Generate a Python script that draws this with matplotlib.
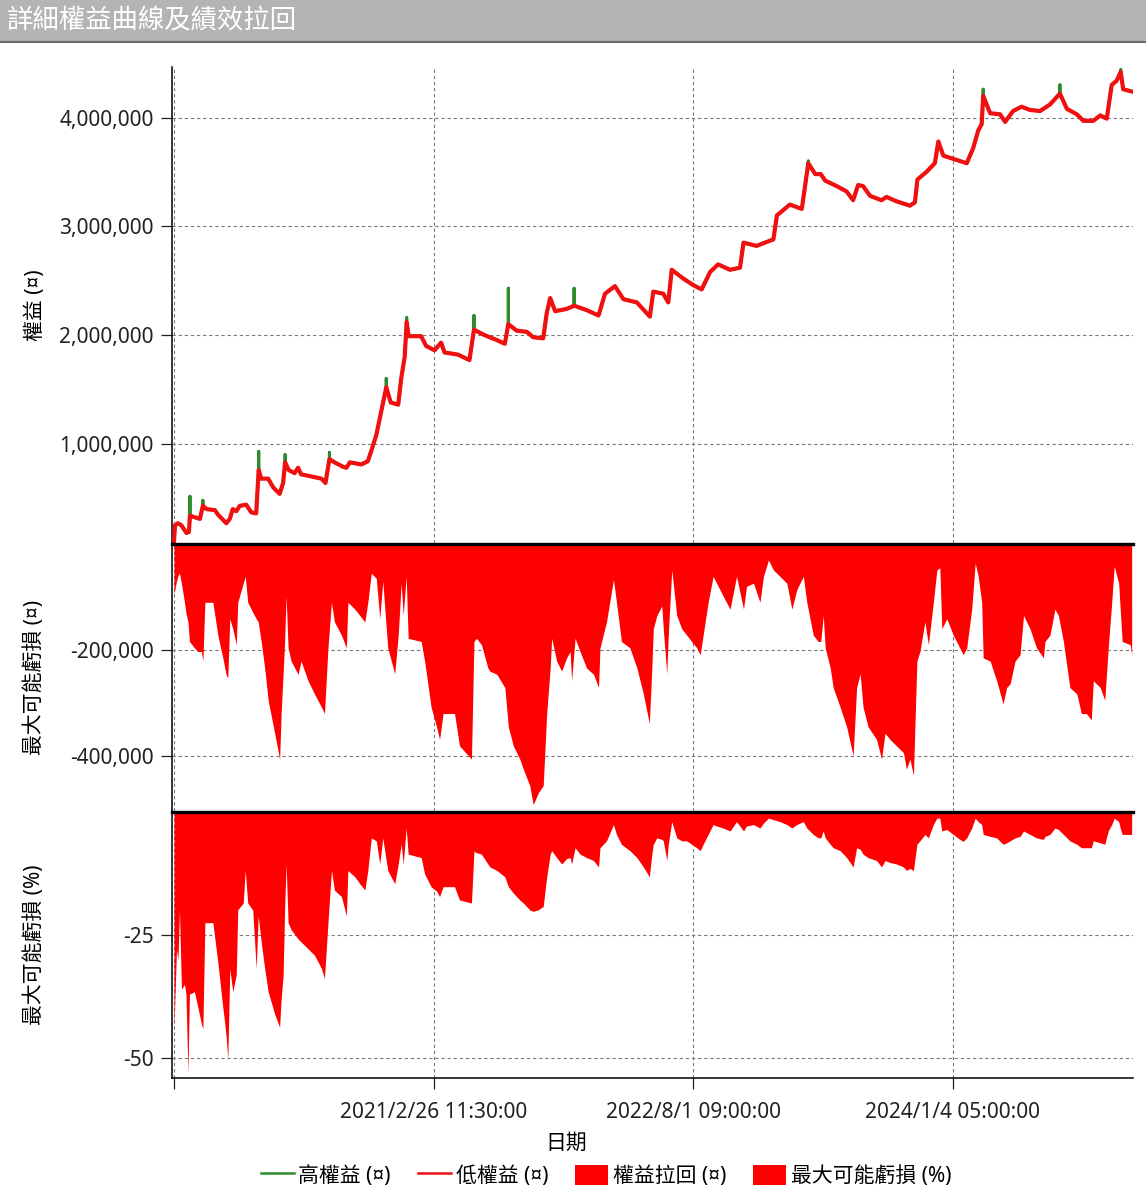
import matplotlib
matplotlib.use("Agg")
import matplotlib.pyplot as plt
from matplotlib.lines import Line2D
from matplotlib.patches import Patch, Rectangle
from matplotlib.ticker import FuncFormatter
import pandas as pd

plt.rcParams['font.family'] = ['Noto Sans', 'Noto Sans CJK TC', 'DejaVu Sans']

# ---------------- data ----------------
start_date = "2019/9/24 00:00:00"
x_tick_labels = ["2021/2/26 11:30:00", "2022/8/1 09:00:00", "2024/1/4 05:00:00"]

# equity curve: days since start, low-equity values
eq_days = [0, 2, 8, 15, 25, 30, 32, 38, 52, 58, 65, 82, 88, 105, 112, 118, 125, 132, 145, 155,
           165, 170, 175, 189, 199, 212, 219, 223, 230, 242, 249, 255, 276, 296, 304, 312, 322,
           339, 346, 353, 376, 389, 397, 406, 416, 426, 435, 450, 456, 463, 467, 471, 496, 506,
           523, 536, 543, 570, 593, 602, 623, 650, 664, 671, 688, 708, 721, 741, 748, 755, 765,
           788, 803, 828, 852, 865, 885, 902, 929, 955, 962, 982, 992, 999, 1022, 1042, 1059,
           1076, 1092, 1116, 1136, 1143, 1169, 1203, 1210, 1236, 1260, 1273, 1287, 1298, 1307,
           1330, 1350, 1363, 1373, 1383, 1397, 1420, 1430, 1450, 1477, 1487, 1492, 1510, 1527,
           1534, 1544, 1564, 1591, 1604, 1614, 1621, 1624, 1638, 1658, 1668, 1684, 1701, 1718,
           1738, 1758, 1778, 1792, 1812, 1825, 1845, 1859, 1872, 1882, 1892, 1900, 1905, 1922]
low_equity = [100000, 250000, 270000, 250000, 180000, 190000, 340000, 330000, 310000, 430000,
              400000, 390000, 350000, 270000, 310000, 400000, 380000, 430000, 440000, 370000,
              360000, 760000, 680000, 680000, 600000, 540000, 640000, 830000, 760000, 730000,
              780000, 720000, 700000, 680000, 640000, 860000, 830000, 790000, 780000, 830000,
              810000, 840000, 950000, 1080000, 1300000, 1520000, 1380000, 1360000, 1600000,
              1800000, 2120000, 1990000, 1990000, 1900000, 1860000, 1930000, 1840000, 1820000,
              1770000, 2050000, 2000000, 1950000, 1920000, 2100000, 2040000, 2030000, 1980000,
              1970000, 2200000, 2340000, 2220000, 2240000, 2270000, 2230000, 2180000, 2380000,
              2450000, 2330000, 2300000, 2170000, 2400000, 2380000, 2300000, 2600000, 2520000,
              2460000, 2420000, 2580000, 2650000, 2600000, 2620000, 2850000, 2820000, 2880000,
              3100000, 3200000, 3160000, 3580000, 3480000, 3480000, 3420000, 3370000, 3320000,
              3240000, 3380000, 3370000, 3280000, 3240000, 3270000, 3230000, 3190000, 3220000,
              3430000, 3500000, 3580000, 3780000, 3650000, 3620000, 3580000, 3720000, 3880000,
              3940000, 4200000, 4040000, 4030000, 3960000, 4060000, 4100000, 4070000, 4060000,
              4120000, 4220000, 4080000, 4030000, 3970000, 3970000, 4020000, 3990000, 4300000,
              4340000, 4420000, 4260000, 4240000]
# high-equity peaks where it rises above the low equity (day -> value)
high_peak_days = [32, 58, 170, 223, 312, 426, 467, 602, 671, 803, 1273, 1624, 1778, 1900]
high_peak_values = [517000, 480000, 930000, 900000, 920000, 1600000, 2160000, 2180000,
                    2430000, 2430000, 3600000, 4260000, 4300000, 4440000]

# drawdown series
dd_days = [0, 5, 8, 11, 15, 21, 24, 28, 31, 41, 48, 55, 58, 62, 78, 88, 98, 102, 105, 108, 112,
           118, 125, 128, 139, 143, 148, 158, 165, 169, 175, 182, 189, 202, 212, 215, 219, 222,
           225, 229, 235, 249, 255, 269, 282, 296, 302, 309, 316, 322, 336, 346, 349, 363, 373,
           383, 389, 396, 406, 413, 419, 429, 443, 450, 456, 460, 466, 470, 496, 503, 516, 527,
           533, 540, 563, 573, 597, 602, 607, 617, 630, 634, 648, 664, 671, 681, 694, 701, 714,
           721, 731, 741, 748, 755, 758, 768, 778, 788, 795, 798, 805, 815, 828, 842, 852, 855,
           868, 882, 888, 898, 915, 929, 942, 954, 959, 962, 969, 979, 982, 989, 992, 999, 1009,
           1019, 1029, 1039, 1049, 1056, 1062, 1072, 1082, 1089, 1102, 1116, 1129, 1143, 1149,
           1163, 1176, 1183, 1193, 1203, 1216, 1230, 1240, 1250, 1263, 1270, 1283, 1293, 1298,
           1303, 1307, 1317, 1323, 1337, 1350, 1363, 1370, 1377, 1383, 1393, 1410, 1420, 1427,
           1437, 1450, 1464, 1470, 1477, 1484, 1491, 1497, 1507, 1514, 1524, 1531, 1537, 1541,
           1551, 1564, 1577, 1584, 1591, 1601, 1608, 1614, 1621, 1624, 1638, 1651, 1664, 1671,
           1678, 1688, 1698, 1705, 1718, 1731, 1745, 1748, 1758, 1768, 1775, 1785, 1798, 1812,
           1821, 1831, 1841, 1845, 1859, 1868, 1875, 1882, 1887, 1896, 1899, 1903, 1919, 1922]
dd_value = [-95000, -70000, -60000, -55000, -75000, -110000, -130000, -147000, -184000, -196000,
            -203000, -203000, -221000, -110000, -110000, -172000, -215000, -234000, -248000,
            -252000, -141000, -160000, -190000, -110000, -74000, -61000, -110000, -129000,
            -141000, -147000, -184000, -234000, -295000, -357000, -406000, -320000, -245000,
            -184000, -98000, -196000, -221000, -246000, -221000, -258000, -283000, -308000,
            -320000, -196000, -110000, -147000, -172000, -196000, -110000, -123000, -135000,
            -147000, -110000, -55000, -65000, -141000, -70000, -196000, -245000, -172000,
            -74000, -135000, -61000, -178000, -184000, -221000, -308000, -345000, -369000,
            -320000, -320000, -381000, -406000, -184000, -178000, -190000, -234000, -240000,
            -246000, -271000, -345000, -381000, -406000, -425000, -456000, -492000, -470000,
            -456000, -320000, -234000, -178000, -221000, -240000, -215000, -203000, -258000,
            -178000, -203000, -234000, -246000, -271000, -196000, -147000, -67000, -110000,
            -184000, -196000, -234000, -283000, -339000, -234000, -160000, -135000, -117000,
            -160000, -245000, -172000, -49000, -135000, -160000, -172000, -184000, -196000,
            -209000, -172000, -110000, -61000, -74000, -98000, -123000, -61000, -123000, -80000,
            -74000, -110000, -61000, -30000, -49000, -61000, -74000, -123000, -86000, -61000,
            -110000, -172000, -184000, -184000, -135000, -196000, -234000, -271000, -308000,
            -345000, -400000, -271000, -245000, -308000, -345000, -369000, -406000, -357000,
            -369000, -381000, -394000, -425000, -406000, -437000, -221000, -203000, -147000,
            -190000, -110000, -49000, -45000, -160000, -141000, -172000, -196000, -209000,
            -196000, -123000, -36000, -61000, -110000, -215000, -221000, -258000, -302000,
            -271000, -264000, -221000, -209000, -135000, -160000, -196000, -215000, -184000,
            -172000, -123000, -135000, -184000, -271000, -283000, -320000, -320000, -332000,
            -258000, -271000, -295000, -196000, -110000, -42000, -74000, -123000, -184000,
            -190000, -209000]
dd_pct = [-44, -28, -30, -20, -36, -35, -37, -53, -37, -36.5, -39.7, -43, -44, -22.5, -22.5,
          -30.5, -39.7, -43, -46, -50.3, -31.8, -36.5, -33, -19.9, -18.5, -11.9, -18.5, -19.9,
          -31.8, -21.1, -26.4, -31.8, -36.5, -41, -43.7, -38, -33.2, -19.9, -10.6, -22.5, -23.9,
          -25.8, -26.4, -27.8, -29.1, -31.8, -33.8, -22.5, -11.9, -15.9, -17.2, -21.1, -11.9,
          -13.2, -14.6, -15.9, -11.9, -5.3, -5.9, -10.6, -5.3, -11.9, -14.6, -10.6, -6.6, -10.6,
          -3.3, -8.6, -9.3, -12.6, -15.2, -16.1, -17.2, -15.2, -15.2, -17.9, -18.5, -8.0, -8.3,
          -8.6, -10.6, -11.2, -11.9, -13.2, -15.2, -16.5, -17.9, -18.5, -19.9, -20.2, -19.9,
          -19.2, -13.2, -8.6, -7.9, -9.3, -10.6, -9.5, -9.3, -10.6, -7.3, -8.6, -9.3, -9.9, -11.2,
          -7.3, -5.9, -2.6, -4.6, -6.6, -7.9, -9.3, -11.2, -13.2, -8.6, -6.6, -5.3, -5.6, -5.9,
          -9.9, -6.6, -2.0, -5.3, -5.9, -5.9, -6.6, -7.3, -7.9, -6.6, -4.6, -2.6, -2.9, -3.3,
          -3.9, -2.0, -3.9, -2.9, -2.6, -3.3, -2.3, -1.3, -1.6, -2.0, -2.6, -3.3, -2.6, -2.0,
          -3.3, -4.6, -5.3, -5.3, -3.9, -5.3, -6.6, -7.3, -7.9, -9.3, -11.2, -7.3, -7.6, -8.6,
          -9.3, -9.9, -11.2, -9.9, -10.3, -10.6, -11.2, -11.9, -11.5, -11.9, -6.6, -5.9, -4.6,
          -5.3, -2.6, -1.3, -1.3, -3.9, -3.6, -4.6, -5.6, -6.0, -5.3, -3.3, -1.3, -2.0, -2.6,
          -4.6, -5.0, -5.3, -6.6, -6.3, -5.9, -5.3, -5.0, -3.9, -4.6, -5.3, -5.6, -5.0, -4.6,
          -3.3, -3.6, -4.6, -5.9, -6.6, -7.3, -7.3, -7.3, -5.9, -6.3, -6.6, -3.9, -2.6, -1.3,
          -2.0, -3.3, -4.6, -4.6, -4.6]

eq_ticks = [1000000, 2000000, 3000000, 4000000]
dd_ticks = [-200000, -400000]
pct_ticks = [-25, -50]

# high equity: follows the low equity, with a vertical excursion to each read peak
peak_map = dict(zip(high_peak_days, high_peak_values))
high_days, high_equity = [], []
for d, v in zip(eq_days, low_equity):
    high_days.append(d)
    high_equity.append(v)
    if d in peak_map:
        high_days += [d, d]
        high_equity += [peak_map[d], v]

# ---------------- figure ----------------
W, H = 1146, 1195
fig = plt.figure(figsize=(W / 100, H / 100), dpi=100)
fig.patch.set_facecolor('white')

# title bar
fig.patches.append(Rectangle((0, 1 - 42 / H), 1, 42 / H, transform=fig.transFigure,
                             facecolor='#b4b4b4', edgecolor='none', zorder=0))
fig.lines.append(Line2D([0, 1], [1 - 42 / H, 1 - 42 / H], transform=fig.transFigure,
                        color='#6a6a6a', lw=1.5))
fig.text(7 / W, 1 - 21 / H, '詳細權益曲線及績效拉回', color='white', fontsize=19,
         fontweight='medium', ha='left', va='center', family=['Noto Sans CJK TC', 'DejaVu Sans'])

left = 172 / W
width = (1133 - 172) / W
ax1 = fig.add_axes([left, 1 - 543 / H, width, (543 - 67) / H])
ax2 = fig.add_axes([left, 1 - 811 / H, width, (811 - 543) / H], sharex=ax1)
ax3 = fig.add_axes([left, 1 - 1078 / H, width, (1078 - 811) / H], sharex=ax1)

start = pd.Timestamp(start_date)
xticks = [0.0] + [(pd.Timestamp(s) - start) / pd.Timedelta(days=1) for s in x_tick_labels]

red_line = '#f01010'
fill_red = '#ff0000'
green = '#2e8b2e'
grid_kw = dict(color='#7a7a7a', linestyle=(0, (3, 2.5)), linewidth=0.8)

# panel 1: equity
ax1.plot(high_days, high_equity, color=green, lw=2.2, zorder=2)
ax1.plot(eq_days, low_equity, color=red_line, lw=3.0, zorder=3)
ax1.set_ylim(88000, 4465000)
ax1.set_yticks(eq_ticks)

# panel 2: drawdown amount
ax2.fill_between(dd_days, dd_value, 0, color=fill_red, lw=0, zorder=2)
ax2.axhline(0, color='black', lw=2.4, zorder=4, clip_on=False)
ax2.set_ylim(-504000, 1900)
ax2.set_yticks(dd_ticks)

# panel 3: drawdown percent
ax3.fill_between(dd_days, dd_pct, 0, color=fill_red, lw=0, zorder=2)
ax3.axhline(0, color='black', lw=2.4, zorder=4, clip_on=False)
ax3.set_ylim(-54.0, 0.15)
ax3.set_yticks(pct_ticks)

ax3.set_xlim(-4.0, 1924.7)
fmt = FuncFormatter(lambda v, p: f"{v:,.0f}")
for ax in (ax1, ax2, ax3):
    ax.set_xticks(xticks)
    ax.yaxis.set_major_formatter(fmt)
    ax.grid(True, axis='both', **grid_kw)
    ax.set_axisbelow(True)
    for s in ('top', 'right'):
        ax.spines[s].set_visible(False)
    ax.spines['left'].set_color('black')
    ax.spines['left'].set_linewidth(1.1)
    ax.tick_params(axis='y', length=8, width=0.9, pad=5, labelsize=15, colors='#222222')
    ax.set_facecolor('none')

ax1.spines['bottom'].set_linestyle((0, (3, 2.5)))
ax1.spines['bottom'].set_color('#7a7a7a')
ax1.spines['bottom'].set_linewidth(0.8)
ax2.spines['bottom'].set_visible(False)
for ax in (ax1, ax2):
    ax.tick_params(axis='x', length=0, labelbottom=False)
ax3.spines['bottom'].set_color('black')
ax3.spines['bottom'].set_linewidth(1.1)
ax3.set_xticklabels([''] + x_tick_labels)
ax3.tick_params(axis='x', length=8, width=0.9, pad=9, labelsize=15, colors='#222222')

# axis labels
fig.text(35 / W, 1 - 305 / H, '權益 (¤)', rotation=90, ha='center', va='center', fontsize=15)
fig.text(35 / W, 1 - 677 / H, '最大可能虧損 (¤)', rotation=90, ha='center', va='center', fontsize=15)
fig.text(35 / W, 1 - 945 / H, '最大可能虧損 (%)', rotation=90, ha='center', va='center', fontsize=15)
fig.text(566 / W, 1 - 1143 / H, '日期', ha='center', va='center', fontsize=15)

# legend
handles = [Line2D([0], [0], color=green, lw=1.8),
           Line2D([0], [0], color=red_line, lw=1.8),
           Patch(facecolor=fill_red, edgecolor='none'),
           Patch(facecolor=fill_red, edgecolor='none')]
labels = ['高權益 (¤)', '低權益 (¤)', '權益拉回 (¤)', '最大可能虧損 (%)']
fig.legend(handles, labels, loc='center', bbox_to_anchor=(606 / W, 1 - 1176 / H), ncol=4,
           frameon=False, fontsize=15, handlelength=1.6, handleheight=1.15,
           handletextpad=0.2, columnspacing=1.3)

fig.savefig('out.png', dpi=100)
